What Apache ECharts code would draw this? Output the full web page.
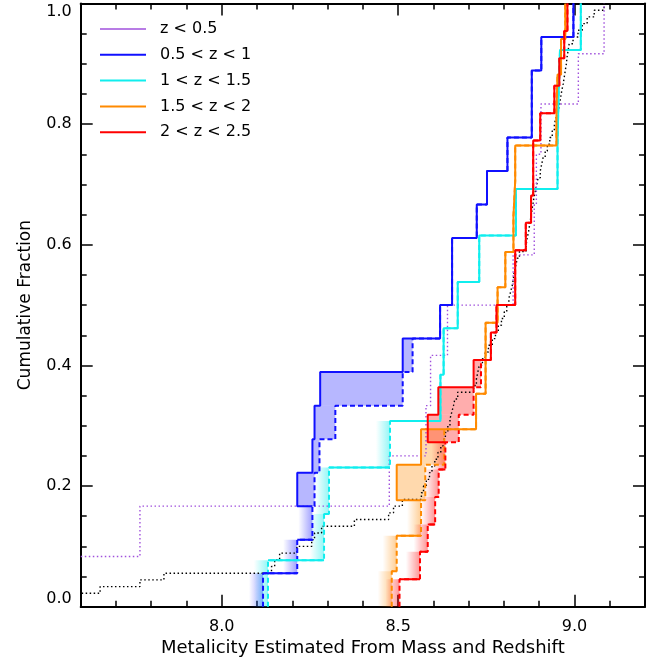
<!DOCTYPE html>
<html>
<head>
<meta charset="utf-8">
<script src="https://cdn.jsdelivr.net/npm/echarts@6.0.0/dist/echarts.min.js"></script>
<style>
  html, body { margin: 0; padding: 0; background: #fff; }
  #main { width: 657px; height: 663px; }
</style>
</head>
<body>
<div id="main"></div>
<script>
// sorted metallicities, one value per object (cumulative fraction steps up at each)
var allObjects = [7.55, 7.58, 7.655, 7.768, 7.836, 8.141, 8.150, 8.164, 8.213, 8.255, 8.263, 8.283,
  8.376, 8.473, 8.487, 8.512, 8.566, 8.572, 8.580, 8.589, 8.596, 8.604, 8.613, 8.621, 8.628, 8.634,
  8.641, 8.647, 8.652, 8.657, 8.661, 8.669, 8.714, 8.722, 8.726, 8.730, 8.739, 8.747, 8.756, 8.767,
  8.776, 8.784, 8.793, 8.801, 8.808, 8.814, 8.819, 8.824, 8.827, 8.829, 8.834, 8.838, 8.844, 8.863,
  8.866, 8.870, 8.873, 8.876, 8.879, 8.882, 8.885, 8.889, 8.893, 8.897, 8.903, 8.907, 8.911, 8.917,
  8.923, 8.930, 8.937, 8.943, 8.948, 8.954, 8.958, 8.961, 8.964, 8.968, 8.971, 8.974, 8.977, 8.979,
  8.982, 8.985, 8.996, 9.010, 9.022, 9.036, 9.056, 9.084];

var lowZ = [7.55, 7.768, 8.475, 8.579, 8.592, 8.640, 8.826, 8.886, 8.892, 8.905, 9.011, 9.084];

// solid = drawn curve, dashed = second estimate; shaded between them
var blueSolid = [8.117, 8.214, 8.257, 8.214, 8.257, 8.263, 8.279, 8.513, 8.619, 8.653, 8.653, 8.723,
  8.752, 8.810, 8.879, 8.879, 8.906, 8.997];
var blueDashed = [8.117, 8.214, 8.257, 8.263, 8.277, 8.322, 8.513, 8.541, 8.619, 8.653, 8.653, 8.723,
  8.752, 8.810, 8.879, 8.879, 8.906, 8.997];

var cyanSolid = [8.131, 8.290, 8.304, 8.477, 8.620, 8.629, 8.669, 8.730, 8.834, 8.952, 8.955, 8.959, 9.018];
var cyanDashed = cyanSolid;

var orangeSolid = [8.482, 8.496, 8.565, 8.496, 8.565, 8.721, 8.748, 8.748, 8.782, 8.804, 8.827, 8.832,
  8.832, 8.949, 8.952, 8.962, 8.974];
var orangeDashed = [8.482, 8.496, 8.565, 8.577, 8.631, 8.721, 8.748, 8.748, 8.782, 8.804, 8.827, 8.832,
  8.832, 8.949, 8.952, 8.962, 8.974];

var redSolid = [8.504, 8.562, 8.584, 8.605, 8.615, 8.634, 8.584, 8.614, 8.714, 8.763, 8.779, 8.832,
  8.832, 8.862, 8.877, 8.883, 8.883, 8.903, 8.943, 8.957, 8.971, 8.980];
var redDashed = [8.504, 8.562, 8.584, 8.605, 8.615, 8.634, 8.672, 8.714, 8.735, 8.763, 8.779, 8.832,
  8.832, 8.862, 8.877, 8.883, 8.883, 8.903, 8.943, 8.957, 8.971, 8.980];

// how many of the lowest steps are faded (limits) instead of boxed
var fadeSteps = [3, 4, 3, 6];

var legendLabels = ['z < 0.5', '0.5 < z < 1', '1 < z < 1.5', '1.5 < z < 2', '2 < z < 2.5'];
var xMajorTicks = [8.0, 8.5, 9.0];

var FONT = 'DejaVu Sans';
var FADE_W = 0.04;
var colors = ['#a050dc', '#1010ff', '#10eeee', '#ff8a00', '#ff0000'];
var fillRgb = ['', '30,30,255', '0,235,235', '255,138,0', '255,0,0'];

function stepPath(xs) {
  var n = xs.length, pts = [[xs[0], 0]];
  for (var k = 0; k < n; k++) {
    pts.push([xs[k], (k + 1) / n]);
    if (k + 1 < n) pts.push([xs[k + 1], (k + 1) / n]);
  }
  return pts;
}

// solid curve: verticals of faded steps are left to the dashed curve
function solidPath(xs, fade) {
  var n = xs.length, pts = [];
  for (var k = 1; k < n; k++) {
    pts.push([xs[k - 1], k / n], [xs[k], k / n]);
    if (k >= fade) pts.push([xs[k], (k + 1) / n]);
    else pts.push('-');
  }
  return pts;
}

function fillData(solid, dashed, fade) {
  var n = solid.length, out = [];
  for (var k = 0; k < n; k++) {
    if (k < fade) out.push([dashed[k] - FADE_W, dashed[k], k / n, (k + 1) / n, 1]);
    else if (dashed[k] > solid[k] + 1e-6) out.push([solid[k], dashed[k], k / n, (k + 1) / n, 0]);
  }
  return out;
}

function makeRender(rgb) {
  return function (params, api) {
    var a = api.coord([api.value(0), api.value(3)]);
    var b = api.coord([api.value(1), api.value(2)]);
    var fill = api.value(4) === 1
      ? new echarts.graphic.LinearGradient(0, 0, 1, 0, [
          { offset: 0, color: 'rgba(' + rgb + ',0)' },
          { offset: 1, color: 'rgba(' + rgb + ',0.42)' }])
      : 'rgba(' + rgb + ',0.32)';
    return {
      type: 'rect',
      shape: { x: a[0], y: a[1], width: b[0] - a[0], height: b[1] - a[1] },
      style: { fill: fill }
    };
  };
}

var groups = [
  [blueSolid, blueDashed],
  [cyanSolid, cyanDashed],
  [orangeSolid, orangeDashed],
  [redSolid, redDashed]
];

var series = [];
groups.forEach(function (g, i) {
  series.push({
    type: 'custom', z: 1, silent: true, clip: true,
    renderItem: makeRender(fillRgb[i + 1]),
    data: fillData(g[0], g[1], fadeSteps[i])
  });
});

function line(data, color, width, type, z) {
  return {
    type: 'line', data: data, z: z, symbol: 'none', silent: true, clip: true,
    lineStyle: { color: color, width: width, type: type }
  };
}

series.push(line(stepPath(allObjects), '#000', 1.4, [1.5, 2.5], 2));
series.push(line(stepPath(lowZ), colors[0], 1.4, [1.5, 2.5], 2));
groups.forEach(function (g, i) {
  series.push(line(stepPath(g[1]), colors[i + 1], 2, [5, 3], 3));
  series.push(line(solidPath(g[0], fadeSteps[i]), colors[i + 1], 2, 'solid', 4));
});

var tickStyle = { color: '#000', width: 1.5 };
var gridBox = { left: 80.7, right: 12, top: 3.5, bottom: 56.3 };

var legendGraphic = [];
legendLabels.forEach(function (t, i) {
  var y = 29 + i * 25.8;
  legendGraphic.push({
    type: 'line', shape: { x1: 100, y1: y, x2: 146, y2: y },
    style: { stroke: colors[i], lineWidth: i === 0 ? 1.3 : 2 }
  });
  legendGraphic.push({
    type: 'text', x: 160, y: y,
    style: { text: t, fill: '#000', font: '16px "' + FONT + '"', textVerticalAlign: 'middle' }
  });
});

var chart = echarts.init(document.getElementById('main'));
chart.setOption({
  animation: false,
  backgroundColor: '#fff',
  grid: [
    Object.assign({ containLabel: false }, gridBox),
    Object.assign({ containLabel: false }, gridBox)
  ],
  xAxis: [
    {
      gridIndex: 0, type: 'value', position: 'bottom', min: 7.6, max: 9.2, interval: 0.1,
      axisLine: { onZero: false, lineStyle: { color: '#000', width: 2 } },
      axisTick: { inside: true, length: 6, lineStyle: tickStyle },
      axisLabel: { show: false }, splitLine: { show: false },
      name: 'Metalicity Estimated From Mass and Redshift', nameLocation: 'middle', nameGap: 33,
      nameTextStyle: { color: '#000', fontSize: 18, fontFamily: FONT }
    },
    {
      gridIndex: 0, type: 'value', position: 'top', min: 7.6, max: 9.2, interval: 0.1,
      axisLine: { onZero: false, lineStyle: { color: '#000', width: 2 } },
      axisTick: { inside: true, length: 6, lineStyle: tickStyle },
      axisLabel: { show: false }, splitLine: { show: false }
    },
    {
      gridIndex: 1, type: 'value', position: 'bottom', min: 7.6, max: 9.2,
      axisLine: { show: false, onZero: false },
      axisTick: { inside: true, length: 12, customValues: xMajorTicks, lineStyle: tickStyle },
      axisLabel: {
        customValues: xMajorTicks, margin: 12, color: '#000', fontSize: 16, fontFamily: FONT,
        formatter: function (v) { return v.toFixed(1); }
      },
      splitLine: { show: false }
    },
    {
      gridIndex: 1, type: 'value', position: 'top', min: 7.6, max: 9.2,
      axisLine: { show: false, onZero: false },
      axisTick: { inside: true, length: 12, customValues: xMajorTicks, lineStyle: tickStyle },
      axisLabel: { show: false }, splitLine: { show: false }
    }
  ],
  yAxis: [
    {
      gridIndex: 0, type: 'value', position: 'left', min: 0, max: 1, interval: 0.2,
      axisLine: { show: true, onZero: false, lineStyle: { color: '#000', width: 2 } },
      axisTick: { inside: true, length: 12, lineStyle: tickStyle },
      minorTick: { show: true, splitNumber: 4, length: 6, lineStyle: tickStyle },
      axisLabel: {
        margin: 9, color: '#000', fontSize: 16, fontFamily: FONT,
        verticalAlignMinLabel: 'bottom', verticalAlignMaxLabel: 'top',
        formatter: function (v) { return v.toFixed(1); }
      },
      splitLine: { show: false },
      name: 'Cumulative Fraction', nameLocation: 'middle', nameGap: 47, nameRotate: 90,
      nameTextStyle: { color: '#000', fontSize: 17, fontFamily: FONT }
    },
    {
      gridIndex: 0, type: 'value', position: 'right', min: 0, max: 1, interval: 0.2,
      axisLine: { show: true, onZero: false, lineStyle: { color: '#000', width: 2 } },
      axisTick: { inside: true, length: 12, lineStyle: tickStyle },
      minorTick: { show: true, splitNumber: 4, length: 6, lineStyle: tickStyle },
      axisLabel: { show: false }, splitLine: { show: false }
    },
    { gridIndex: 1, type: 'value', min: 0, max: 1, show: false }
  ],
  graphic: legendGraphic,
  series: series
});
</script>
</body>
</html>
